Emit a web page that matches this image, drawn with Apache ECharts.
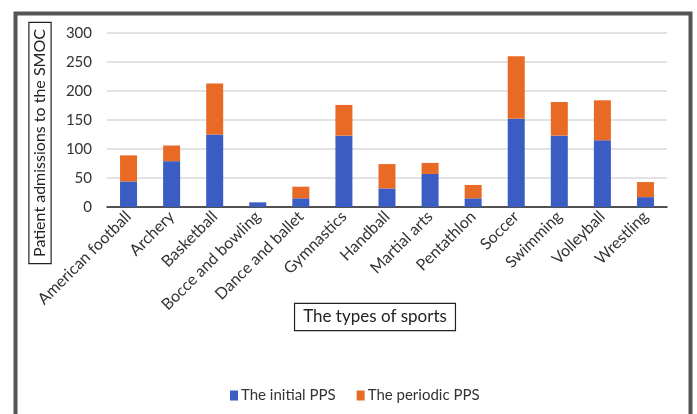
<!DOCTYPE html>
<html>
<head>
<meta charset="utf-8">
<script src="https://cdn.jsdelivr.net/npm/echarts@6/dist/echarts.min.js"></script>
<style>html,body{margin:0;padding:0;background:#fff}#c{width:697px;height:414px}</style>
</head>
<body>
<div id="c"></div>
<script>
const categories = ["American football","Archery","Basketball","Bocce and bowling","Dance and ballet","Gymnastics","Handball","Martial arts","Pentathlon","Soccer","Swimming","Volleyball","Wrestling"];
const initialPPS = [44, 79, 125, 8, 15, 123, 32, 57, 15, 152, 123, 115, 17];
const periodicPPS = [45, 27, 88, 0, 20, 53, 42, 19, 23, 108, 58, 69, 26];
const yTicks = {min: 0, max: 300, interval: 50};
const seriesNames = ["The initial PPS", "The periodic PPS"];
const yTitle = "Patient admissions to the SMOC";
const xTitle = "The types of sports";

const FONT = "Lato";
const chart = echarts.init(document.getElementById('c'), null, {renderer: 'canvas'});
chart.setOption({
  backgroundColor: '#ffffff',
  animation: false,
  textStyle: {fontFamily: FONT},
  grid: {left: 107, right: 30, top: 33, bottom: 207, containLabel: false},
  legend: {
    data: seriesNames,
    left: 225, top: 383,
    itemWidth: 8, itemHeight: 10, itemGap: 21,
    icon: 'rect',
    textStyle: {fontFamily: FONT, fontSize: 15, color: '#333', padding: [0,0,0,-2]}
  },
  xAxis: {
    type: 'category',
    data: categories,
    axisTick: {show: false},
    axisLine: {lineStyle: {color: '#222', width: 1.5}},
    axisLabel: {interval: 0, rotate: 45, fontFamily: FONT, fontSize: 16, color: '#333', margin: 7}
  },
  yAxis: {
    type: 'value',
    min: yTicks.min, max: yTicks.max, interval: yTicks.interval,
    axisLine: {show: false}, axisTick: {show: false},
    splitLine: {lineStyle: {color: '#d9d9d9', width: 1.5}},
    axisLabel: {fontFamily: FONT, fontSize: 15, color: '#333', margin: 15}
  },
  series: [
    {name: seriesNames[0], type: 'bar', stack: 't', data: initialPPS, barWidth: 17, itemStyle: {color: '#3a5cc3'}},
    {name: seriesNames[1], type: 'bar', stack: 't', data: periodicPPS, barWidth: 17, itemStyle: {color: '#e96a25'}}
  ],
  graphic: [
    {type: 'rect', left: 13, top: 11, shape: {width: 675, height: 420}, style: {fill: 'none', stroke: '#555', lineWidth: 4}, silent: true},
    {type: 'text', x: 40, y: 143, rotation: Math.PI/2,
     style: {text: yTitle, fontFamily: FONT, fontSize: 16, fill: '#222', align: 'center', verticalAlign: 'middle',
             borderColor: '#222', borderWidth: 1.2, padding: [3, 6, 2, 6], backgroundColor: '#fff'}},
    {type: 'text', x: 375, y: 317,
     style: {text: xTitle, fontFamily: FONT, fontSize: 17, fill: '#222', align: 'center', verticalAlign: 'middle',
             borderColor: '#222', borderWidth: 1.2, padding: [5, 8, 4, 8], backgroundColor: '#fff'}}
  ]
});
</script>
</body>
</html>
